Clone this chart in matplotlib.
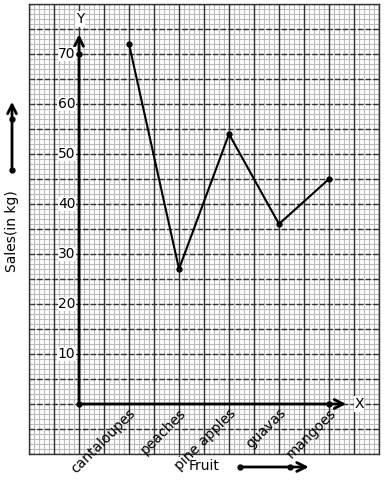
import numpy as np
import matplotlib.pyplot as plt

# Data
fruits = ['cantaloupes', 'peaches', 'pine apples', 'guavas', 'mangoes']
sales = [72, 27, 54, 36, 45]
y_ticks = [10, 20, 30, 40, 50, 60, 70]

fig = plt.figure(figsize=(3.84, 4.8), dpi=100)
ax = fig.add_axes([29/384, 26/480, 350/384, 450/480])
ax.set_xlim(-1, 6)
ax.set_ylim(-10, 80)

# graph paper
for xv in np.arange(-1, 6.001, 0.1):
    ax.axvline(xv, color='#bbbbbb', lw=0.8, zorder=0)
for yv in np.arange(-10, 80.001, 1):
    ax.axhline(yv, color='#bbbbbb', lw=0.8, zorder=0)
for xv in np.arange(-1, 6.001, 0.5):
    ax.axvline(xv, color='#333333', lw=1.0, zorder=1)
for yv in np.arange(-10, 80.001, 5):
    ax.axhline(yv, color='#333333', lw=1.0, ls=(0, (4, 1.5)), zorder=1)
for s in ax.spines.values():
    s.set_color('#333333')
    s.set_linewidth(1.0)
ax.set_xticks([])
ax.set_yticks([])

arrow = dict(arrowstyle='->', lw=2, color='black', mutation_scale=16)

# axes with arrows
ax.annotate('', xy=(0, 74.5), xytext=(0, 0), arrowprops=arrow, zorder=3)
ax.annotate('', xy=(5.4, 0), xytext=(0, 0), arrowprops=arrow, zorder=3)
ax.plot([0, 0, 5], [0, 70, 0], 'o', color='black', ms=3.5, zorder=6)
ax.text(0.02, 77, 'Y', ha='center', va='center', fontsize=10,
        bbox=dict(facecolor='white', edgecolor='none', pad=0.5), zorder=4)
ax.text(5.6, 0, 'X', ha='center', va='center', fontsize=10,
        bbox=dict(facecolor='white', edgecolor='none', pad=0.5), zorder=4)

# y tick labels
for v in y_ticks:
    ax.text(-0.07, v, str(v), ha='right', va='center', fontsize=10,
            bbox=dict(facecolor='white', edgecolor='none', pad=0.3), zorder=4)

# x tick labels
xs = np.arange(1, len(fruits) + 1)
for xv, name in zip(xs, fruits):
    ax.text(xv + 0.09, -1.4, name, ha='right', va='center', rotation=45,
            rotation_mode='anchor', fontsize=10, zorder=4)

# data line
ax.plot(xs, sales, '-o', color='black', lw=1.5, ms=3.5, zorder=5)

# axis titles with arrows
ax.text(2.5, -12.4, 'Fruit', ha='center', va='center', fontsize=10, clip_on=False)
ax.annotate('', xy=(4.65, -12.6), xytext=(3.22, -12.6), annotation_clip=False,
            arrowprops=arrow)
ax.plot([3.22, 4.22], [-12.6, -12.6], 'o', color='black', ms=3.5, clip_on=False, zorder=6)

ax.text(-1.34, 34.5, 'Sales(in kg)', ha='center', va='center', rotation=90,
        fontsize=10, clip_on=False)
ax.annotate('', xy=(-1.34, 61), xytext=(-1.34, 46.8), annotation_clip=False,
            arrowprops=arrow)
ax.plot([-1.34, -1.34], [46.8, 57], 'o', color='black', ms=3.5, clip_on=False, zorder=6)

fig.savefig('out.png', dpi=100)
